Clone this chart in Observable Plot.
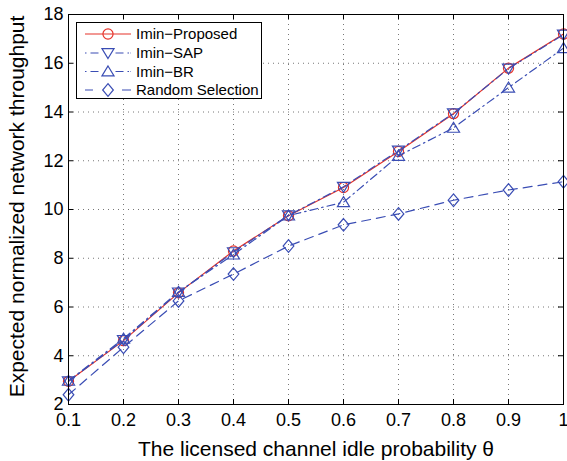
<!DOCTYPE html>
<html>
<head>
<meta charset="utf-8">
<script src="https://cdn.jsdelivr.net/npm/d3@7"></script>
<script src="https://cdn.jsdelivr.net/npm/@observablehq/plot@0.6"></script>
<style>
  html, body { margin: 0; padding: 0; background: white; }
  #wrap { position: relative; width: 567px; height: 461px; font-family: 'Liberation Sans', Arial, sans-serif; }
  #legend { position: absolute; left: 76px; top: 22px; width: 186px; height: 77px; border: 1px solid black; background: white; box-sizing: border-box; }
</style>
</head>
<body>
<div id="wrap"><div id="legend"></div></div>
<script>
// ---- data ----
const theta = [0.1, 0.2, 0.3, 0.4, 0.5, 0.6, 0.7, 0.8, 0.9, 1.0];
const proposed = [2.95, 4.62, 6.58, 8.3, 9.74, 10.9, 12.38, 13.93, 15.8, 17.2];
const sap      = [2.95, 4.65, 6.6, 8.25, 9.76, 10.93, 12.42, 13.95, 15.78, 17.18];
const br       = [2.97, 4.7, 6.62, 8.15, 9.75, 10.3, 12.2, 13.35, 15.0, 16.62];
const randomSel= [2.4, 4.35, 6.25, 7.35, 8.5, 9.37, 9.82, 10.38, 10.8, 11.14];
const seriesNames = ["Imin\u2212Proposed", "Imin\u2212SAP", "Imin\u2212BR", "Random Selection"];
const xTicks = [0.1, 0.2, 0.3, 0.4, 0.5, 0.6, 0.7, 0.8, 0.9, 1];
const yTicks = [2, 4, 6, 8, 10, 12, 14, 16, 18];
const xLabel = "The licensed channel idle probability \u03b8";
const yLabel = "Expected normalized network throughput";

const RED = "#e6332a", BLUE = "#3a4db4";

// ---- marker symbols ----
const symCircle = { draw(ctx, size) { const r = Math.sqrt(size / Math.PI) * 0.92; ctx.moveTo(r, 0); ctx.arc(0, 0, r, 0, 2 * Math.PI); ctx.closePath(); } };
const symTriUp = { draw(ctx, size) { const r = Math.sqrt(size / Math.PI); ctx.moveTo(0, -r); ctx.lineTo(r * 1.1, r * 0.8); ctx.lineTo(-r * 1.1, r * 0.8); ctx.closePath(); } };
const symTriDown = { draw(ctx, size) { const r = Math.sqrt(size / Math.PI); ctx.moveTo(0, r); ctx.lineTo(r * 1.1, -r * 0.8); ctx.lineTo(-r * 1.1, -r * 0.8); ctx.closePath(); } };
const symDiamond = { draw(ctx, size) { const r = Math.sqrt(size / Math.PI); ctx.moveTo(0, -r * 1.15); ctx.lineTo(r * 0.97, 0); ctx.lineTo(0, r * 1.15); ctx.lineTo(-r * 0.97, 0); ctx.closePath(); } };

const series = [
  { name: seriesNames[0], values: proposed, stroke: RED, dash: null, symbol: symCircle },
  { name: seriesNames[1], values: sap, stroke: BLUE, dash: "8,4,1.5,4", symbol: symTriDown },
  { name: seriesNames[2], values: br, stroke: BLUE, dash: "8,4,1.5,4", symbol: symTriUp },
  { name: seriesNames[3], values: randomSel, stroke: BLUE, dash: "9,6", symbol: symDiamond }
];

const W = 567, H = 461, mL = 68, mR = 4, mT = 14, mB = 57;
const innerW = W - mL - mR, innerH = H - mT - mB;
const TL = 5;

const dataMarks = [];
for (const s of series) {
  const rows = theta.map((t, i) => ({ x: t, y: s.values[i] }));
  dataMarks.push(Plot.line(rows, { x: "x", y: "y", stroke: s.stroke, strokeWidth: 1.2, strokeDasharray: s.dash }));
  dataMarks.push(Plot.dot(rows, { x: "x", y: "y", stroke: s.stroke, strokeWidth: 1.2, fill: "none", r: 5.5, symbol: s.symbol }));
}

const chart = Plot.plot({
  width: W, height: H,
  marginLeft: mL, marginRight: mR, marginTop: mT, marginBottom: mB,
  x: { domain: [0.1, 1] },
  y: { domain: [2, 18] },
  style: { fontFamily: "'Liberation Sans', Arial, sans-serif", background: "white", color: "black", overflow: "visible" },
  marks: [
    Plot.ruleX(xTicks.slice(1, -1), { stroke: "#777", strokeWidth: 1, strokeDasharray: "1,4" }),
    Plot.ruleY(yTicks.slice(1, -1), { stroke: "#777", strokeWidth: 1, strokeDasharray: "1,4" }),
    Plot.tickX(xTicks, { x: d => d, insetTop: innerH - TL, stroke: "black" }),
    Plot.tickX(xTicks, { x: d => d, insetBottom: innerH - TL, stroke: "black" }),
    Plot.tickY(yTicks, { y: d => d, insetRight: innerW - TL, stroke: "black" }),
    Plot.tickY(yTicks, { y: d => d, insetLeft: innerW - TL, stroke: "black" }),
    ...dataMarks,
    Plot.frame({ stroke: "black", strokeWidth: 1 }),
    Plot.axisX({ ticks: xTicks, tickFormat: d => d === 1 ? "1" : d.toFixed(1), tickSize: 0, tickPadding: 9, fontSize: 18, label: null }),
    Plot.axisY({ ticks: yTicks, tickFormat: d => String(d), tickSize: 0, tickPadding: 5, fontSize: 18, label: null }),
    Plot.text([xLabel], { text: d => d, frameAnchor: "bottom", textAnchor: "middle", dy: 51, fontSize: 21, fill: "black" }),
    Plot.text([yLabel], { text: d => d, frameAnchor: "left", textAnchor: "middle", dx: -51, dy: -3, rotate: -90, fontSize: 21, fill: "black" })
  ]
});
document.getElementById("wrap").prepend(chart);

// ---- legend ----
const lg = d3.select("#legend").append("svg").attr("width", 184).attr("height", 75).style("display", "block");
const rowY = [11, 30, 48.5, 67];
const legendDash = ["none", "1.5,4,8,17,8,4,1.5", "1.5,4,8,17,8,4,1.5", "8,29,9"];
series.forEach((s, i) => {
  const y = rowY[i];
  lg.append("line").attr("x1", 8).attr("x2", 54).attr("y1", y).attr("y2", y)
    .attr("stroke", s.stroke).attr("stroke-width", 1.2)
    .attr("stroke-dasharray", legendDash[i]);
  const size = Math.PI * 5.5 * 5.5;
  lg.append("path").attr("d", d3.symbol(s.symbol, size)()).attr("transform", `translate(31,${y})`)
    .attr("fill", "none").attr("stroke", s.stroke).attr("stroke-width", 1.2);
  lg.append("text").attr("x", 59).attr("y", y).attr("dy", "0.36em")
    .attr("font-size", 15).attr("font-family", "'Liberation Sans', Arial, sans-serif").attr("fill", "black").text(s.name);
});
</script>
</body>
</html>
